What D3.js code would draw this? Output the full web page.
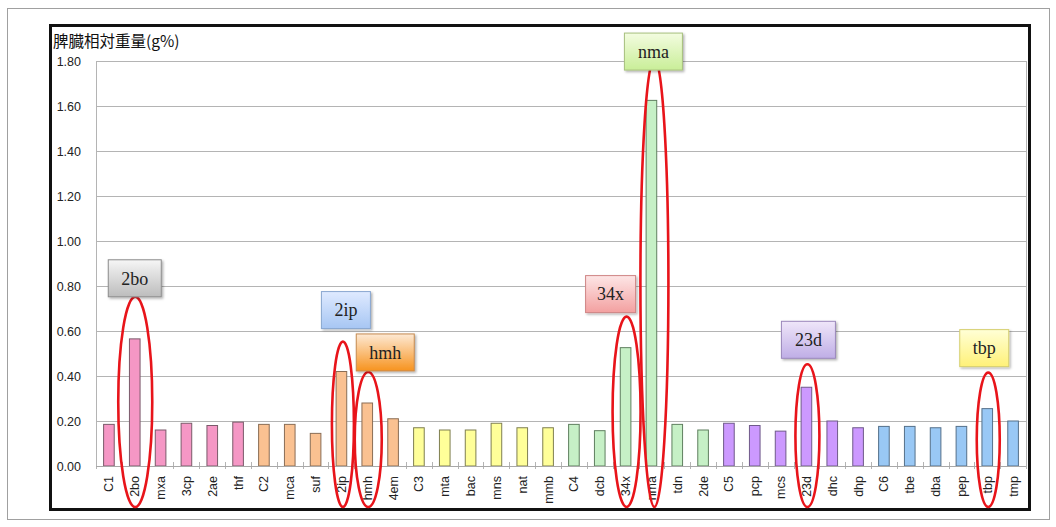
<!DOCTYPE html>
<html><head><meta charset="utf-8">
<script src="https://cdn.jsdelivr.net/npm/d3@7"></script>
<style>html,body{margin:0;padding:0;background:#fff;}svg{display:block;}</style>
</head><body>
<svg id="c" width="1056" height="527"></svg>
<script>
const categories = ["C1","2bo","mxa","3cp","2ae","thf","C2","mca","suf","2ip","hmh","4em","C3","mta","bac","mns","nat","mmb","C4","dcb","34x","nma","tdn","2de","C5","pcp","mcs","23d","dhc","dhp","C6","tbe","dba","pep","tbp","tmp"];
const values = [0.185,0.565,0.16,0.19,0.18,0.195,0.185,0.185,0.145,0.42,0.28,0.21,0.17,0.16,0.16,0.19,0.17,0.17,0.185,0.157,0.526,1.625,0.185,0.16,0.19,0.18,0.155,0.35,0.20,0.17,0.176,0.176,0.17,0.176,0.255,0.20];
const groups = [0,0,0,0,0,0,1,1,1,1,1,1,2,2,2,2,2,2,3,3,3,3,3,3,4,4,4,4,4,4,5,5,5,5,5,5];
const yTicks = [0,0.2,0.4,0.6,0.8,1.0,1.2,1.4,1.6,1.8];
const yTitle = "脾臓相対重量(g%)";
const annotCats = ["2bo","2ip","hmh","34x","nma","23d","tbp"];
const annotTops = [0.752,0.553,0.418,0.664,1.813,0.452,0.415];

const fills = ["#f597c5","#fac191","#ffff99","#c6f0c6","#cc99ff","#99c8f5"];
const strokes = ["#7a5a6a","#8a6d55","#7f7f50","#5f7f5f","#6f5a8a","#55708a"];
// annotation layout: ellipse rx, ellipse dx, box dx, box width, gap, gradient [top,bottom,border]
const annotLayout = {
  "2bo":{rx:17,dx:0.5,bdx:0,bw:53,gap:0,g:["#f6f6f6","#bcbcbc","#8c8c8c"]},
  "2ip":{rx:11,dx:1.5,bdx:4.5,bw:49,gap:13,g:["#dfeaff","#a7c6f3","#8aa7d0"]},
  "hmh":{rx:13.5,dx:1,bdx:18,bw:58,gap:1,g:["#fde9d4","#f7931e","#c58a50"]},
  "34x":{rx:14,dx:1,bdx:-15,bw:50,gap:4,g:["#fde6e6","#f3a0a0","#cf8585"]},
  "nma":{rx:14,dx:3,bdx:2,bw:58,gap:-12,g:["#f3fce0","#c9ee98","#a7c07e"]},
  "23d":{rx:12,dx:1,bdx:2,bw:54,gap:6,g:["#efe6f9","#bfaee6","#9a88bb"]},
  "tbp":{rx:11.5,dx:1,bdx:-3,bw:49,gap:6,g:["#ffffd6","#fff178","#d6cf6f"]}
};

const svg = d3.select("#c");
// outer frames
svg.append("rect").attr("x",7.5).attr("y",8.5).attr("width",1042).attr("height",511).attr("fill","#fff").attr("stroke","#a0a0a0").attr("stroke-width",1);
svg.append("rect").attr("x",50.5).attr("y",25.5).attr("width",979).attr("height",484).attr("fill","#fff").attr("stroke","#111").attr("stroke-width",3);

const x = d3.scaleBand().domain(categories).range([96,1026]).paddingInner(0.55).paddingOuter(0.275);
const y = d3.scaleLinear().domain([0,1.8]).range([466,61]);

// gridlines
svg.append("g").selectAll("line").data(yTicks).join("line")
  .attr("x1",96).attr("x2",1026).attr("y1",d=>Math.round(y(d))+0.5).attr("y2",d=>Math.round(y(d))+0.5)
  .attr("stroke","#b4b4b4").attr("stroke-width",1);
svg.append("line").attr("x1",96.5).attr("x2",96.5).attr("y1",61).attr("y2",466).attr("stroke","#b4b4b4");
svg.append("line").attr("x1",1026.5).attr("x2",1026.5).attr("y1",61).attr("y2",466).attr("stroke","#b4b4b4");

// y axis labels
const yAxis = d3.axisLeft(y).tickValues(yTicks).tickFormat(d3.format(".2f")).tickSize(0).tickPadding(0);
const ya = svg.append("g").attr("transform","translate(81,0)").call(yAxis);
ya.select(".domain").remove();
ya.selectAll("text").attr("font-family","Liberation Sans, Arial, sans-serif").attr("font-size",12.5).attr("fill","#222").attr("dy","0.35em");

// title
svg.append("text").attr("x",53).attr("y",47).text(yTitle)
  .attr("font-family","Noto Sans CJK JP, sans-serif").attr("font-size",15.5).attr("fill","#111");

// x tick marks at band boundaries
const step = x.step();
const bounds = categories.map((c,i)=> x(c) - x.paddingOuter()*0 - (step - x.bandwidth())/2).concat([x(categories[categories.length-1]) + x.bandwidth() + (step - x.bandwidth())/2]);
svg.append("g").selectAll("line").data(bounds).join("line")
  .attr("x1",d=>Math.round(d)+0.5).attr("x2",d=>Math.round(d)+0.5).attr("y1",462).attr("y2",469).attr("stroke","#b4b4b4");

// bars
svg.append("g").selectAll("rect").data(categories).join("rect")
  .attr("x",c=>x(c)+0.5).attr("width",x.bandwidth()-1)
  .attr("y",(c,i)=>y(values[i])).attr("height",(c,i)=>y(0)-y(values[i]))
  .attr("fill",(c,i)=>fills[groups[i]]).attr("stroke",(c,i)=>strokes[groups[i]]).attr("stroke-width",1);

// baseline
svg.append("line").attr("x1",96).attr("x2",1026).attr("y1",466.5).attr("y2",466.5).attr("stroke","#a8a8a8");

// x labels
svg.append("g").selectAll("text").data(categories).join("text")
  .attr("transform",c=>`translate(${x(c)+x.bandwidth()/2+4.5},476) rotate(-90)`)
  .attr("text-anchor","end").text(c=>c)
  .attr("font-family","Liberation Sans, Arial, sans-serif").attr("font-size",12.5).attr("fill","#222");

// gradients
const defs = svg.append("defs");
annotCats.forEach((c,i)=>{
  const L = annotLayout[c];
  const gr = defs.append("linearGradient").attr("id","g"+i).attr("x1",0).attr("y1",0).attr("x2",0).attr("y2",1);
  gr.append("stop").attr("offset","0%").attr("stop-color",L.g[0]);
  gr.append("stop").attr("offset","100%").attr("stop-color",L.g[1]);
});
const sh = defs.append("filter").attr("id","sh").attr("x","-20%").attr("y","-20%").attr("width","150%").attr("height","150%");
sh.append("feDropShadow").attr("dx",1.5).attr("dy",1.5).attr("stdDeviation",1.2).attr("flood-color","#000").attr("flood-opacity",0.3);

// annotations
const bottomY = y(0) + 41;
annotCats.forEach((c,i)=>{
  const L = annotLayout[c];
  const cx = x(c) + x.bandwidth()/2 + L.dx;
  const top = y(annotTops[i]);
  const ry = (bottomY - top)/2;
  svg.append("ellipse").attr("cx",cx).attr("cy",top+ry).attr("rx",L.rx).attr("ry",ry)
    .attr("fill","none").attr("stroke","#e8141a").attr("stroke-width",2.6);
  const bh = 37;
  const bb = top - L.gap;
  const bx = x(c) + x.bandwidth()/2 + L.bdx - L.bw/2;
  svg.append("rect").attr("x",bx).attr("y",bb-bh).attr("width",L.bw).attr("height",bh)
    .attr("fill",`url(#g${i})`).attr("stroke",L.g[2]).attr("stroke-width",1).attr("filter","url(#sh)");
  svg.append("text").attr("x",bx+L.bw/2).attr("y",bb-bh/2).attr("dy","0.35em").attr("text-anchor","middle")
    .text(c).attr("font-family","Liberation Serif, Times New Roman, serif").attr("font-size",18).attr("fill","#222");
});
</script>
</body></html>
